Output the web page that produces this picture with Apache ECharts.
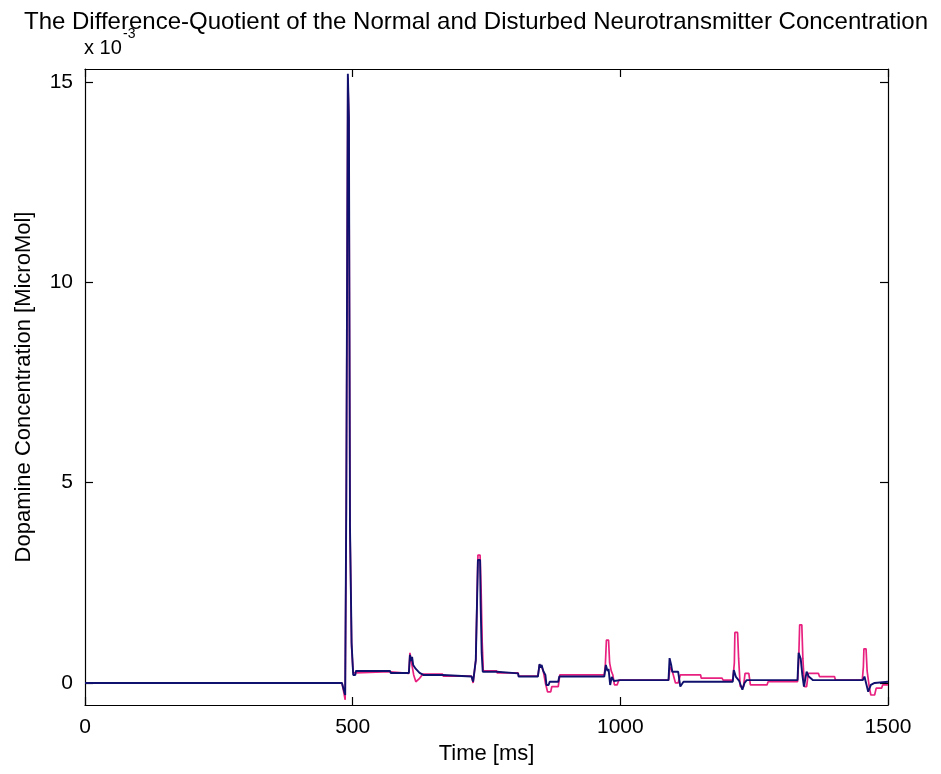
<!DOCTYPE html>
<html>
<head>
<meta charset="utf-8">
<script src="https://cdn.jsdelivr.net/npm/echarts@6/dist/echarts.min.js"></script>
<style>html,body{margin:0;padding:0;background:#fff;}#chart{width:941px;height:774px;}</style>
</head>
<body>
<div id="chart"></div>
<script>
// values in units of 1e-3 MicroMol
const xTicks = [0, 500, 1000, 1500];
const yTicks = [0, 5, 10, 15];

const normalSeries = [
  [0,0],[480,0],[483,-0.15],[486,-0.3],[487,-0.3],[488,4.27],[491,4.27],[491,15.2],[492,15.2],[493,14.1],[494,14.1],
  [495,3.9],[497,3.9],[498,1.0],[500,1.0],[501,0.2],[505,0.2],[506,0.3],[570,0.3],[571,0.25],[605,0.25],
  [607,0.7],[609,0.55],[611,0.65],[613,0.45],[618,0.35],[625,0.25],[632,0.2],[668,0.2],[669,0.16],[722,0.16],
  [725,0.03],[728,0.03],[730,0.57],[733,0.57],[734,3.07],[738,3.07],[739,2.0],[741,0.75],[743,0.28],[769,0.28],
  [770,0.24],[809,0.24],[810,0.16],[846,0.16],[849,0.47],[851,0.38],[853,0.45],[856,0.3],[860,0.2],[862,-0.05],
  [866,-0.05],[868,0.03],[884,0.03],[886,0.16],[970,0.16],[973,0.45],[976,0.3],[978,0.35],[981,-0.05],[984,0.15],
  [988,0.05],[1000,0.07],[1090,0.07],[1092,0.62],[1095,0.45],[1097,0.28],[1108,0.28],[1112,-0.09],[1118,0.03],
  [1210,0.03],[1212,0.32],[1216,0.15],[1222,0.05],[1228,-0.17],[1232,0.0],[1236,0.07],[1331,0.07],[1333,0.75],
  [1337,0.6],[1340,0.2],[1343,-0.09],[1348,0.28],[1352,0.16],[1360,0.07],[1453,0.07],[1456,0.16],[1459,0.0],
  [1463,-0.22],[1468,-0.05],[1475,0.0],[1500,0.03]
];

const disturbedSeries = [
  [0,0],[480,0],[483,-0.2],[486,-0.42],[487,-0.42],[488,4.27],[491,4.27],[491,15.1],[492,15.1],[493,14.0],[494,14.0],
  [495,3.9],[497,3.9],[498,0.9],[500,0.9],[501,0.25],[505,0.25],[506,0.28],[570,0.28],[571,0.24],[605,0.24],
  [607,0.75],[610,0.5],[614,0.2],[618,0.03],[624,0.1],[631,0.22],[668,0.22],[669,0.17],[722,0.17],[725,0.0],
  [728,0.0],[730,0.57],[733,0.57],[734,3.19],[738,3.19],[740,2.3],[742,1.0],[744,0.3],[769,0.3],[770,0.25],
  [809,0.25],[810,0.17],[846,0.17],[849,0.45],[853,0.4],[856,0.3],[860,0.0],[864,-0.22],[870,-0.22],[872,-0.09],
  [884,-0.09],[887,0.2],[970,0.2],[972,0.45],[974,1.07],[978,1.07],[980,0.5],[983,0.3],[986,0.2],[989,-0.05],
  [994,-0.05],[997,0.07],[1090,0.07],[1093,0.4],[1097,0.3],[1103,0.0],[1108,0.0],[1112,0.2],[1150,0.2],
  [1151,0.12],[1190,0.12],[1192,0.07],[1210,0.07],[1213,0.5],[1214,1.26],[1219,1.26],[1221,0.6],[1224,-0.09],
  [1230,-0.09],[1233,0.24],[1240,0.24],[1243,-0.05],[1274,-0.05],[1276,0.03],[1331,0.03],[1333,0.5],[1335,1.45],
  [1339,1.45],[1341,0.6],[1344,-0.09],[1348,-0.09],[1351,0.24],[1370,0.24],[1372,0.16],[1400,0.16],[1402,0.07],
  [1452,0.07],[1454,0.4],[1455,0.85],[1459,0.85],[1461,0.3],[1465,-0.1],[1468,-0.3],[1475,-0.3],[1478,-0.13],
  [1488,-0.13],[1490,-0.05],[1500,-0.05]
];

const FONT = 'Liberation Sans';
const chart = echarts.init(document.getElementById('chart'), null, {renderer: 'canvas'});

const axisBase = {
  axisLine: {show: true, onZero: false, lineStyle: {color: '#000', width: 1.2}},
  axisTick: {show: true, inside: true, length: 8, lineStyle: {color: '#000', width: 1.2}},
  splitLine: {show: false}
};
const plainNum = v => String(v);

chart.setOption({
  animation: false,
  backgroundColor: '#fff',
  graphic: [
    {type: 'text', x: 476, y: 10, z: 10,
      style: {text: 'The Difference-Quotient of the Normal and Disturbed Neurotransmitter Concentration',
        font: '24px "Liberation Sans"', fill: '#000', textAlign: 'center', textVerticalAlign: 'top'}},
    {type: 'text', left: 84, top: 38, style: {text: 'x 10', font: '20px "Liberation Sans"', fill: '#000'}},
    {type: 'text', left: 123, top: 27, style: {text: '-3', font: '14px "Liberation Sans"', fill: '#000'}}
  ],
  grid: {left: 85, right: 53, top: 69, bottom: 69, containLabel: false},
  xAxis: [
    Object.assign({}, axisBase, {
      type: 'value', min: 0, max: 1500, interval: 500, position: 'bottom',
      name: 'Time [ms]', nameLocation: 'middle', nameGap: 32,
      nameTextStyle: {fontFamily: FONT, fontSize: 22, color: '#000'},
      axisLabel: {show: true, margin: 12, fontFamily: FONT, fontSize: 21, color: '#000',
        customValues: xTicks, formatter: plainNum},
      axisTick: Object.assign({}, axisBase.axisTick, {customValues: xTicks})
    }),
    Object.assign({}, axisBase, {
      type: 'value', min: 0, max: 1500, interval: 500, position: 'top',
      axisLabel: {show: false}
    })
  ],
  yAxis: [
    Object.assign({}, axisBase, {
      type: 'value', min: -0.55, max: 15.32, position: 'left',
      name: 'Dopamine Concentration [MicroMol]', nameLocation: 'middle', nameGap: 50,
      nameTextStyle: {fontFamily: FONT, fontSize: 22, color: '#000'},
      axisLabel: {show: true, margin: 12, fontFamily: FONT, fontSize: 21, color: '#000',
        customValues: yTicks, formatter: plainNum},
      axisTick: Object.assign({}, axisBase.axisTick, {customValues: yTicks})
    }),
    Object.assign({}, axisBase, {
      type: 'value', min: -0.55, max: 15.32, position: 'right',
      axisLabel: {show: false},
      axisTick: Object.assign({}, axisBase.axisTick, {customValues: yTicks})
    })
  ],
  series: [
    {name: 'Disturbed', type: 'line', data: disturbedSeries, showSymbol: false, symbol: 'none',
      lineStyle: {color: '#e8207f', width: 1.7}, z: 2},
    {name: 'Normal', type: 'line', data: normalSeries, showSymbol: false, symbol: 'none',
      lineStyle: {color: '#10106e', width: 1.9}, z: 3}
  ]
});
</script>
</body>
</html>
